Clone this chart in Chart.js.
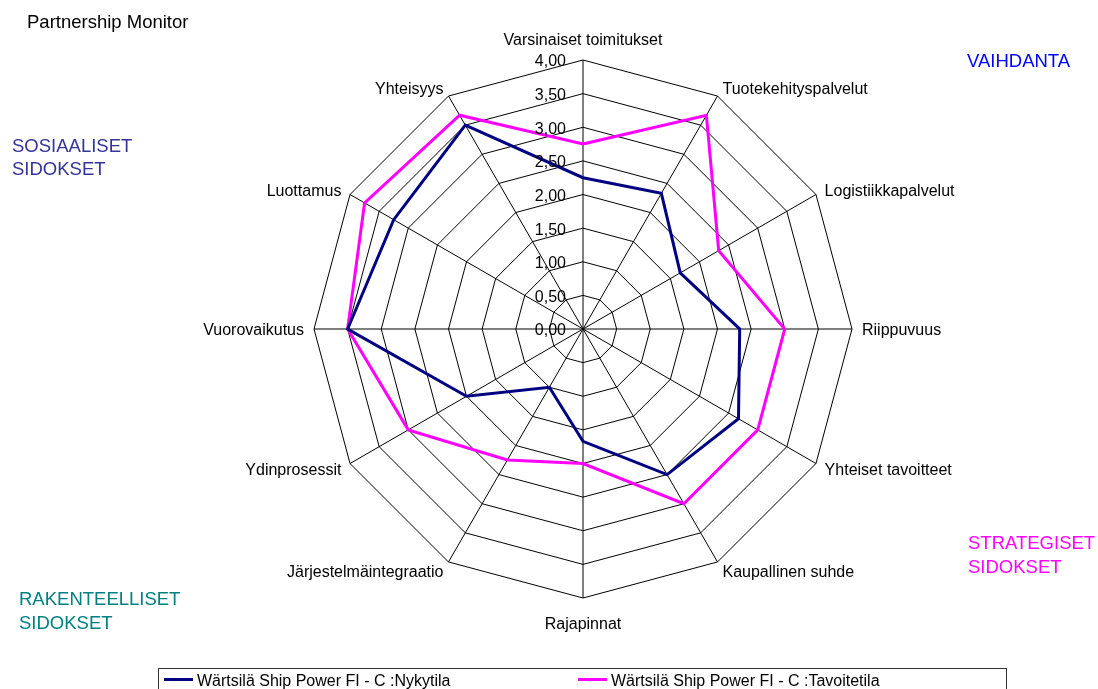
<!DOCTYPE html>
<html>
<head>
<meta charset="utf-8">
<script src="https://cdn.jsdelivr.net/npm/chart.js@4"></script>
<style>
  html, body { margin: 0; padding: 0; background: #fff; }
  #wrap { position: relative; width: 1098px; height: 689px; }
</style>
</head>
<body>
<div id="wrap"><canvas id="myChart" width="1098" height="689"></canvas></div>
<script>
const categories = ["Varsinaiset toimitukset", "Tuotekehityspalvelut", "Logistiikkapalvelut", "Riippuvuus",
    "Yhteiset tavoitteet", "Kaupallinen suhde", "Rajapinnat", "Järjestelmäintegraatio",
    "Ydinprosessit", "Vuorovaikutus", "Luottamus", "Yhteisyys"];
const nykytila = [2.25, 2.33, 1.67, 2.33, 2.67, 2.5, 1.67, 1.0, 2.0, 3.5, 3.25, 3.5];
const tavoitetila = [2.75, 3.67, 2.33, 3.0, 3.0, 3.0, 2.0, 2.25, 3.0, 3.5, 3.75, 3.67];
const seriesNames = ["Wärtsilä Ship Power FI - C :Nykytila", "Wärtsilä Ship Power FI - C :Tavoitetila"];
const tickValues = [0, 0.5, 1, 1.5, 2, 2.5, 3, 3.5, 4];
const colours = ["#000080", "#ff00ff"];

const FONT = '"Liberation Sans", Arial, sans-serif';

// extra texts: point labels, ticks, title, corner groups, legend box
const overlay = {
    id: 'overlay',
    afterDraw(chart) {
        const ctx = chart.ctx;
        const s = chart.scales.r;
        const r = s.drawingArea;
        ctx.save();
        ctx.fillStyle = '#000';

        // tick labels left of the top axis
        ctx.font = '16px ' + FONT;
        ctx.textAlign = 'right';
        ctx.textBaseline = 'middle';
        tickValues.forEach((v) => {
            const y = s.yCenter - s.getDistanceFromCenterForValue(v);
            ctx.fillText(v.toFixed(2).replace('.', ','), s.xCenter - 17, y + 2);
        });

        // point labels
        categories.forEach((label, i) => {
            const ang = i * 2 * Math.PI / categories.length;
            const sin = Math.sin(ang), cos = Math.cos(ang);
            let dist = r + 10;
            if (Math.abs(sin) < 0.01) dist = r + (cos > 0 ? 21 : 25);
            const p = s.getPointPosition(i, dist);
            ctx.textAlign = sin > 0.01 ? 'left' : (sin < -0.01 ? 'right' : 'center');
            ctx.textBaseline = 'middle';
            ctx.fillText(label, p.x, p.y + 2);
        });

        // title
        ctx.textAlign = 'left';
        ctx.textBaseline = 'alphabetic';
        ctx.font = '18.5px ' + FONT;
        ctx.fillText('Partnership Monitor', 27, 28);

        // corner group names
        ctx.fillStyle = '#0000ff';
        ctx.fillText('VAIHDANTA', 967, 67);
        ctx.fillStyle = '#333399';
        ctx.fillText('SOSIAALISET', 12, 152);
        ctx.fillText('SIDOKSET', 12, 175);
        ctx.fillStyle = '#ff00ff';
        ctx.fillText('STRATEGISET', 968, 549);
        ctx.fillText('SIDOKSET', 968, 573);
        ctx.fillStyle = '#008080';
        ctx.fillText('RAKENTEELLISET', 19, 605);
        ctx.fillText('SIDOKSET', 19, 629);

        // legend box
        ctx.strokeStyle = '#333';
        ctx.lineWidth = 1;
        ctx.strokeRect(158.5, 668.5, 848, 40);
        ctx.font = '16px ' + FONT;
        ctx.fillStyle = '#000';
        const lx = [164, 578];
        seriesNames.forEach((name, i) => {
            ctx.strokeStyle = colours[i];
            ctx.lineWidth = 3;
            ctx.beginPath();
            ctx.moveTo(lx[i], 679.5);
            ctx.lineTo(lx[i] + 29, 679.5);
            ctx.stroke();
            ctx.fillText(name, lx[i] + 33, 686);
        });
        ctx.restore();
    }
};

var ctx = document.getElementById('myChart').getContext('2d');
var chart = new Chart(ctx, {
    type: 'radar',
    data: {
        labels: categories,
        datasets: [{
            label: seriesNames[0],
            data: nykytila,
            borderColor: colours[0],
            backgroundColor: colours[0],
            borderWidth: 3,
            pointRadius: 0,
            fill: false
        }, {
            label: seriesNames[1],
            data: tavoitetila,
            borderColor: colours[1],
            backgroundColor: colours[1],
            borderWidth: 3,
            pointRadius: 0,
            fill: false
        }]
    },
    options: {
        responsive: false,
        animation: false,
        devicePixelRatio: 1,
        layout: { padding: { left: 314, top: 60, right: 246, bottom: 91 } },
        plugins: { legend: { display: false }, tooltip: { enabled: false } },
        scales: {
            r: {
                min: 0,
                max: 4,
                ticks: { display: false, stepSize: 0.5 },
                pointLabels: { display: false },
                grid: { color: '#000', lineWidth: 1 },
                angleLines: { color: '#000', lineWidth: 1 }
            }
        }
    },
    plugins: [overlay]
});
</script>
</body>
</html>
